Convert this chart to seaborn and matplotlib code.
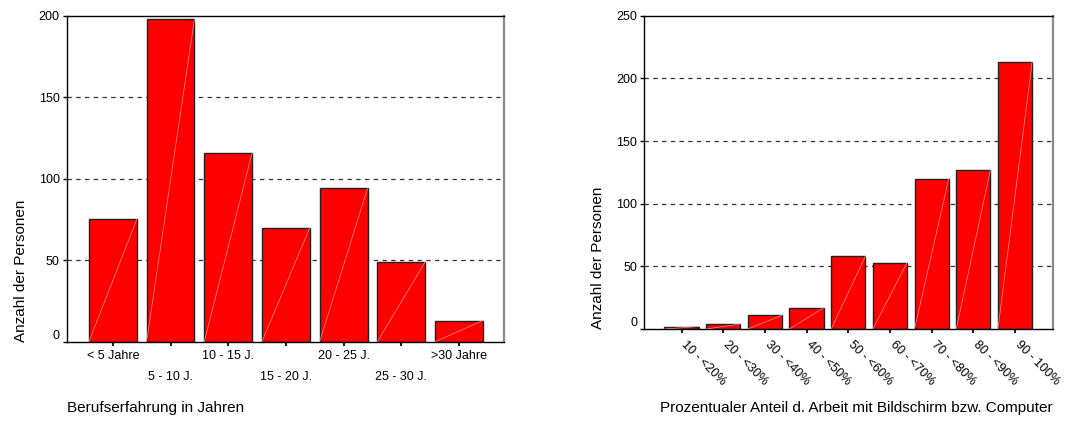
import matplotlib
matplotlib.use("Agg")
import matplotlib.pyplot as plt
import matplotlib.transforms as mtrans
import seaborn as sns
import pandas as pd

# left chart: work experience
exp_labels = ["< 5 Jahre", "5 - 10 J.", "10 - 15 J.", "15 - 20 J.",
              "20 - 25 J.", "25 - 30 J.", ">30 Jahre"]
exp_counts = [75, 198, 116, 70, 94, 49, 13]

# right chart: share of screen work
share_labels = ["10 - <20%", "20 - <30%", "30 - <40%", "40 - <50%", "50 - <60%",
                "60 - <70%", "70 - <80%", "80 - <90%", "90 - 100%"]
share_counts = [2, 4, 11, 17, 58, 53, 120, 127, 213]

sns.set_theme(style="white")
plt.rcParams["font.family"] = ["Liberation Sans", "DejaVu Sans"]

fig = plt.figure(figsize=(10.65, 4.23), dpi=100)
ax1 = fig.add_axes([0.0626, 0.1922, 0.4106, 0.7707])
ax2 = fig.add_axes([0.6047, 0.2222, 0.3840, 0.7407])


def style_axes(ax, ymax, grid_vals):
    for y in grid_vals:
        ax.axhline(y, color="#333333", lw=0.9, ls=(0, (3.5, 3.5)), zorder=0)
    ax.set_ylim(0, ymax)
    for s in ["left", "bottom", "top"]:
        ax.spines[s].set_color("black")
        ax.spines[s].set_linewidth(1.0)
    ax.spines["right"].set_color("#8a8a8a")
    ax.spines["right"].set_linewidth(1.6)
    ax.tick_params(axis="y", left=True, length=3, width=1, color="black",
                   labelsize=9, pad=2, labelcolor="black")
    ax.tick_params(axis="x", bottom=True, length=3, width=1.5, color="#222222",
                   labelsize=9, labelcolor="black")
    for lab in ax.get_yticklabels():
        if lab.get_text() == "0":
            lab.set_va("bottom")


def diag_lines(ax):
    # faint diagonal stroke inside each bar, as in the original export
    for p in ax.patches:
        x0, y0 = p.get_x(), p.get_y()
        ax.plot([x0, x0 + p.get_width()], [y0, y0 + p.get_height()],
                color="#ff9090", lw=0.5, zorder=3)


df1 = pd.DataFrame({"cat": exp_labels, "n": exp_counts})
sns.barplot(data=df1, x="cat", y="n", ax=ax1, color="#ff0000", saturation=1,
            width=0.83, edgecolor="#222222", linewidth=1.0, zorder=2)
ax1.set_xlim(-0.8, len(exp_labels) - 1 + 0.78)
ax1.set_yticks([0, 50, 100, 150, 200])
ax1.set_yticklabels(["0", "50", "100", "150", "200"])
style_axes(ax1, 200, [50, 100, 150])
diag_lines(ax1)
ax1.set_xticks(range(len(exp_labels)))
ax1.set_xticklabels(exp_labels)
for i, t in enumerate(ax1.xaxis.get_major_ticks()):
    t.set_pad(3 if i % 2 == 0 else 18)
ax1.set_xlabel("")
ax1.set_ylabel("Anzahl der Personen", fontsize=11, color="black", labelpad=8,
               loc="bottom")
fig.text(0.0626, 0.035, "Berufserfahrung in Jahren", fontsize=11,
         ha="left", va="center", color="black")

df2 = pd.DataFrame({"cat": share_labels, "n": share_counts})
sns.barplot(data=df2, x="cat", y="n", ax=ax2, color="#ff0000", saturation=1,
            width=0.82, edgecolor="#222222", linewidth=1.0, zorder=2)
ax2.set_xlim(-0.9, len(share_labels) - 1 + 0.91)
ax2.set_yticks([0, 50, 100, 150, 200, 250])
ax2.set_yticklabels(["0", "50", "100", "150", "200", "250"])
style_axes(ax2, 250, [50, 100, 150, 200])
ax2.tick_params(axis="x", pad=4)
diag_lines(ax2)
ax2.set_xticks(range(len(share_labels)))
ax2.set_xticklabels(share_labels, rotation=-45, ha="left", va="top",
                    rotation_mode="anchor")
shift = mtrans.ScaledTranslation(6 / 100, 0, fig.dpi_scale_trans)
for t in ax2.xaxis.get_major_ticks():
    t.label1.set_transform(t.label1.get_transform() + shift)
ax2.set_xlabel("")
ax2.set_ylabel("Anzahl der Personen", fontsize=11, color="black", labelpad=8,
               loc="bottom")
fig.text(0.9887, 0.035, "Prozentualer Anteil d. Arbeit mit Bildschirm bzw. Computer",
         fontsize=11, ha="right", va="center", color="black")

fig.savefig("out.png", dpi=100)
